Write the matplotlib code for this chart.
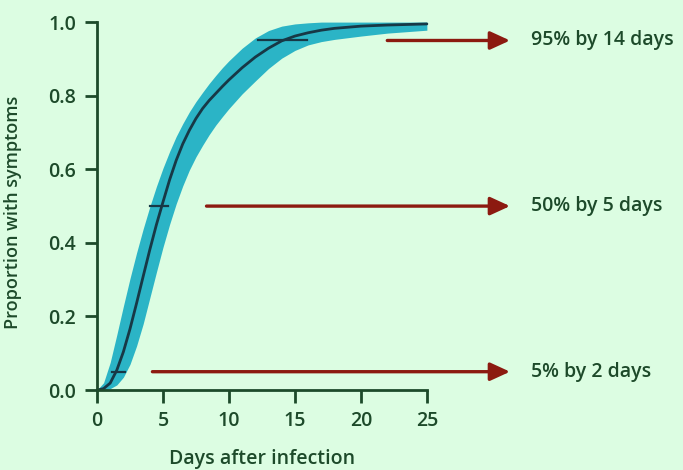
import matplotlib.pyplot as plt
import numpy as np

# Values
days = [0, 0.5, 1.0, 1.5, 2.0, 2.5, 3.0, 3.5, 4.0, 4.5, 5.0, 5.5, 6.0, 6.5, 7.0, 7.5,
        8.0, 8.5, 9.0, 9.5, 10.0, 11.0, 12.0, 13.0, 14.0, 15.0, 16.0, 17.0, 18.0,
        20.0, 22.0, 25.0]
median = [0, 0.004, 0.019, 0.054, 0.104, 0.166, 0.236, 0.309, 0.381, 0.449, 0.511, 0.571,
          0.624, 0.669, 0.706, 0.738, 0.765, 0.787, 0.806, 0.825, 0.843, 0.876, 0.905,
          0.929, 0.949, 0.962, 0.971, 0.978, 0.983, 0.989, 0.992, 0.995]
upper = [0, 0.02, 0.075, 0.15, 0.228, 0.303, 0.373, 0.438, 0.498, 0.553, 0.603, 0.648,
         0.689, 0.724, 0.756, 0.784, 0.809, 0.833, 0.855, 0.876, 0.895, 0.929, 0.957,
         0.977, 0.989, 0.995, 0.998, 1.0, 1.0, 1.0, 1.0, 1.0]
lower = [0, 0.0, 0.004, 0.014, 0.035, 0.07, 0.12, 0.18, 0.25, 0.32, 0.388, 0.45,
         0.506, 0.555, 0.598, 0.634, 0.665, 0.694, 0.72, 0.743, 0.765, 0.805, 0.84,
         0.874, 0.902, 0.923, 0.938, 0.947, 0.953, 0.962, 0.97, 0.978]

# confidence intervals at the 5%, 50% and 95% levels
ci_levels = [0.05, 0.5, 0.95]
ci_low = [1.1, 4.0, 12.2]
ci_high = [2.1, 5.4, 15.9]

# arrows and their labels
arrow_start = [4.2, 8.3, 22.0]
arrow_labels = ['5% by 2 days', '50% by 5 days', '95% by 14 days']

bg = '#dcfde2'
green = '#1d4a2a'

plt.rcParams['font.family'] = ['Open Sans', 'DejaVu Sans']
plt.rcParams['font.weight'] = 'semibold'
plt.rcParams['axes.labelweight'] = 'semibold'

fig = plt.figure(figsize=(6.83, 4.70), dpi=100, facecolor=bg)
ax = fig.add_axes([0.142, 0.170, 0.483, 0.783])
ax.set_facecolor(bg)

ax.fill_between(days, lower, upper, color='#2bb4c6', lw=0, clip_on=False)
ax.plot(days, median, color='#173846', lw=2, clip_on=False, solid_capstyle='round')

for lev, lo, hi in zip(ci_levels, ci_low, ci_high):
    ax.plot([lo, hi], [lev, lev], color='#173846', lw=1.6, clip_on=False)

for lev, x0, lab in zip(ci_levels, arrow_start, arrow_labels):
    ax.annotate('', xy=(31.3, lev), xytext=(x0, lev), annotation_clip=False,
                arrowprops=dict(arrowstyle='-|>,head_length=1.2,head_width=0.55',
                                color='#8c1a10', lw=2.4, shrinkA=0, shrinkB=0))
    ax.text(32.9, lev, lab, color=green, fontsize=14, va='center', ha='left',
            clip_on=False)

ax.set_xlim(0, 25)
ax.set_ylim(0, 1.0)
ax.set_xticks([0, 5, 10, 15, 20, 25])
ax.set_yticks([0.0, 0.2, 0.4, 0.6, 0.8, 1.0])
ax.set_yticklabels(['0.0', '0.2', '0.4', '0.6', '0.8', '1.0'])

for s in ['top', 'right']:
    ax.spines[s].set_visible(False)
for s in ['left', 'bottom']:
    ax.spines[s].set_color(green)
    ax.spines[s].set_linewidth(2)

ax.tick_params(colors=green, width=2, length=9, labelsize=14, direction='out', pad=6)
ax.set_xlabel('Days after infection', color=green, fontsize=14, labelpad=13)
ax.set_ylabel('Proportion with symptoms', color=green, fontsize=13)
ax.yaxis.set_label_coords(-0.227, 0.482)

plt.savefig('out.png', dpi=100, facecolor=bg)
plt.close()
